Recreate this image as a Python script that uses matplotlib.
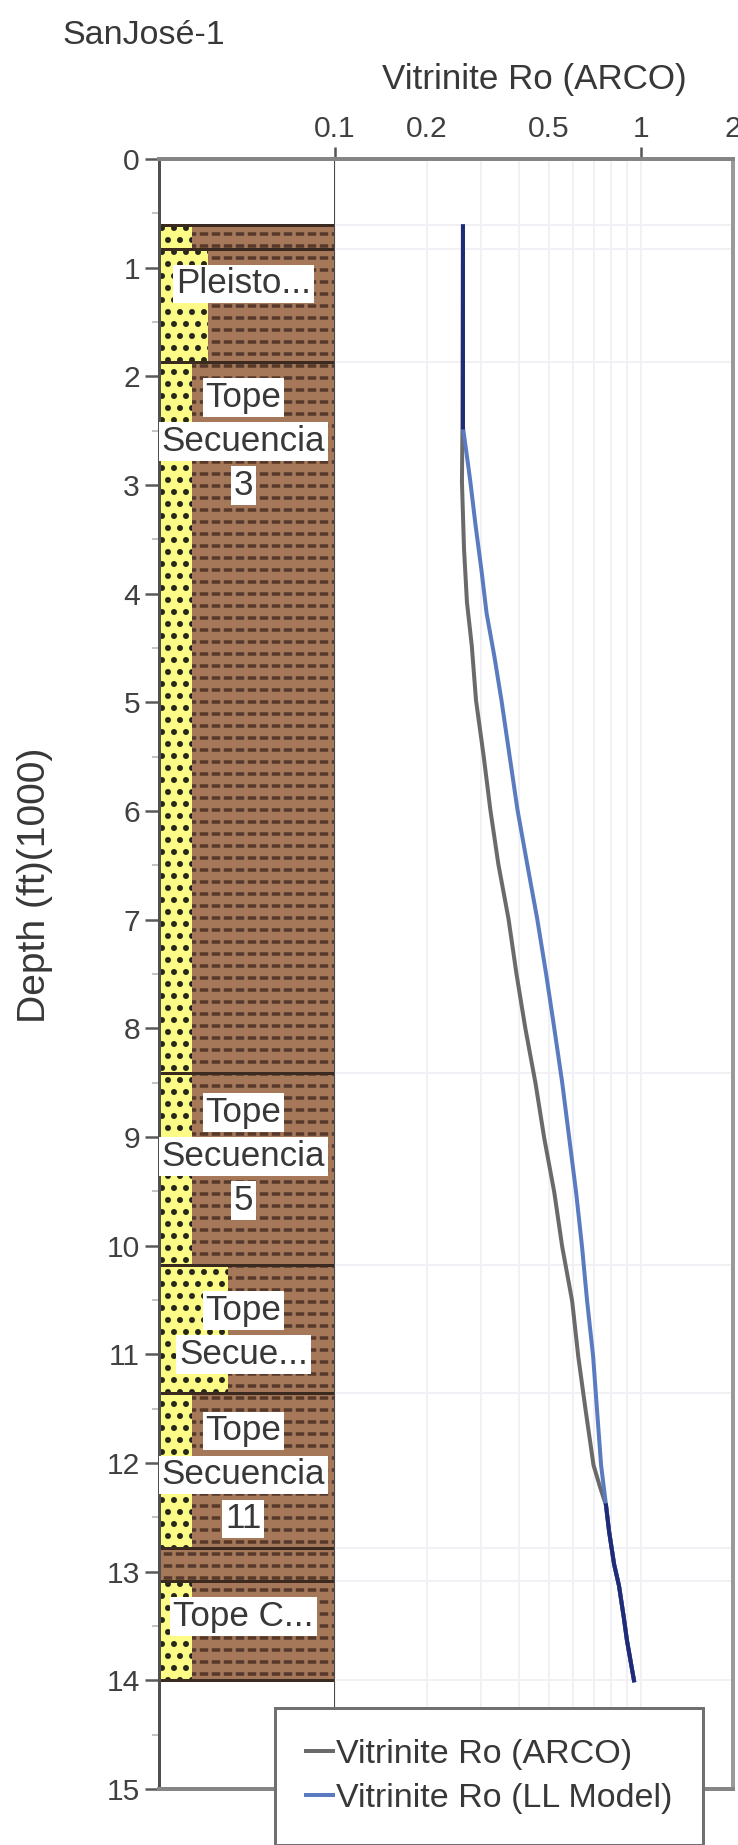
import numpy as np
import matplotlib
matplotlib.use('Agg')
import matplotlib.pyplot as plt
from matplotlib.patches import Rectangle
from matplotlib.ticker import FixedLocator, FixedFormatter, NullFormatter, LogLocator, MultipleLocator

plt.rcParams['font.family'] = ['Liberation Sans', 'DejaVu Sans']
plt.rcParams['hatch.linewidth'] = 3.5

# ---- data ----
well_name = 'SanJosé-1'
x_title = 'Vitrinite Ro (ARCO)'
y_title = 'Depth (ft)(1000)'

# lithology layers (depth in 1000 ft), sand share of the column
layer_top = [0.61, 0.83, 1.87, 8.41, 10.18, 11.36, 12.78, 13.09]
layer_base = [0.83, 1.87, 8.41, 10.18, 11.36, 12.78, 13.09, 14.0]
sand_frac = [0.19, 0.28, 0.19, 0.19, 0.39, 0.19, 0.0, 0.19]

form_names = ['Pleisto...', 'Tope\nSecuencia\n3', 'Tope\nSecuencia\n5',
              'Tope\nSecue...', 'Tope\nSecuencia\n11', 'Tope C...']
form_label_depth = [1.15, 2.60, 9.18, 10.80, 12.11, 13.41]

# vitrinite reflectance curves
depth_arco = [0.62, 2.47, 2.97, 3.58, 4.08, 4.48, 4.98, 5.49, 5.99, 6.49,
              6.99, 7.5, 8.0, 8.5, 9.01, 9.51, 10.01, 10.51, 11.02, 11.52,
              12.02, 12.22, 12.39, 12.63, 12.93, 13.13, 13.43, 13.63, 14.0]
ro_arco = [0.262, 0.261, 0.260, 0.264, 0.270, 0.280, 0.289, 0.306, 0.322, 0.342,
           0.369, 0.392, 0.419, 0.452, 0.483, 0.521, 0.553, 0.596, 0.624, 0.660,
           0.700, 0.735, 0.769, 0.787, 0.817, 0.848, 0.880, 0.900, 0.949]

depth_ll = [0.62, 2.47, 2.77, 2.97, 3.37, 3.78, 4.18, 4.58, 4.98, 5.49,
            5.99, 6.49, 6.99, 7.5, 8.0, 8.5, 9.01, 9.51, 10.01, 10.51,
            11.02, 11.52, 12.02, 12.39, 12.63, 12.93, 13.13, 13.43, 13.63, 14.0]
ro_ll = [0.262, 0.262, 0.271, 0.277, 0.288, 0.301, 0.313, 0.332, 0.350, 0.372,
         0.395, 0.425, 0.458, 0.490, 0.521, 0.553, 0.583, 0.614, 0.642, 0.667,
         0.698, 0.719, 0.741, 0.769, 0.787, 0.817, 0.848, 0.880, 0.900, 0.949]

ro_ticks = [0.1, 0.2, 0.5, 1, 2]
ro_tick_labels = ['0.1', '0.2', '0.5', '1', '2']

# ---- figure layout (pixel based, dpi 72 so 1pt = 1px) ----
W, H = 738, 1845
fig = plt.figure(figsize=(W / 72, H / 72), dpi=72)


def fx(px):
    return px / W


def fy(px):
    return 1 - px / H


y_top, y_bot = 159, 1789
x_left, x_mid, x_right = 159, 335, 733
ax_lith = fig.add_axes([fx(x_left), fy(y_bot), (x_mid - x_left) / W, (y_bot - y_top) / H])
ax_ro = fig.add_axes([fx(x_mid), fy(y_bot), (x_right - x_mid) / W, (y_bot - y_top) / H],
                     sharey=ax_lith)

sand_yellow = '#fbfb86'
dot_color = '#26261a'
shale_brown = '#a57859'
dash_color = '#56392b'
text_dark = '#383838'

# ---- lithology column ----
for top, base, sf in zip(layer_top, layer_base, sand_frac):
    h = base - top
    if sf > 0:
        ax_lith.add_patch(Rectangle((0, top), sf, h, facecolor=sand_yellow,
                                    edgecolor=dot_color, hatch='.', lw=0, zorder=1))
    ax_lith.add_patch(Rectangle((sf, top), 1 - sf, h, facecolor=shale_brown,
                                edgecolor=dash_color, hatch='-', lw=0, zorder=1))
    ax_lith.add_patch(Rectangle((sf, top), 1 - sf, h, facecolor='none',
                                edgecolor=shale_brown, hatch='|', lw=0, zorder=1.1))

bounds = layer_top + [layer_base[-1]]
ax_lith.hlines(bounds, 0, 1, color='#3b2a20', lw=3, zorder=2)

line_step = 0.405
for name, d in zip(form_names, form_label_depth):
    lines = name.split('\n')
    n = len(lines)
    for i, s in enumerate(lines):
        ax_lith.text(0.48, d + (i - (n - 1) / 2) * line_step, s, ha='center', va='center',
                     fontsize=35, color=text_dark, zorder=5,
                     bbox=dict(boxstyle='square,pad=0.08', fc='white', ec='none'))

ax_lith.set_xlim(0, 1)
ax_lith.set_ylim(15, 0)
ax_lith.set_xticks([])
ax_lith.yaxis.set_major_locator(MultipleLocator(1))
ax_lith.yaxis.set_minor_locator(MultipleLocator(0.5))
ax_lith.tick_params(axis='y', which='major', length=14, width=2.5, color='#5a5a5a',
                    labelsize=30, labelcolor='#404040', pad=5)
ax_lith.tick_params(axis='y', which='minor', length=7, width=2, color='#c4c4c4')
ax_lith.spines['left'].set_color('#505050')
ax_lith.spines['left'].set_linewidth(3)
ax_lith.spines['right'].set_color('#4a4a4a')
ax_lith.spines['right'].set_linewidth(3)
for s in ['top', 'bottom']:
    ax_lith.spines[s].set_color('#858585')
    ax_lith.spines[s].set_linewidth(4)

# ---- Ro track ----
ax_ro.set_xscale('log')
ax_ro.set_xlim(0.1, 2)
ax_ro.hlines(bounds, 0.1, 2, color='#f0f0f5', lw=2, zorder=0.5)
l1, = ax_ro.plot(ro_arco, depth_arco, color='#6a6a6a', lw=4, zorder=3)
l2, = ax_ro.plot(ro_ll, depth_ll, color='#5b7bc0', lw=4, zorder=3)

# where both curves coincide the original renders a dark navy line
arco_on_ll = np.interp(depth_ll, depth_arco, ro_arco)
same = np.abs(np.log10(arco_on_ll) - np.log10(ro_ll)) < 0.004
ax_ro.plot(np.where(same, ro_ll, np.nan), depth_ll, color='#1f2a78', lw=4, zorder=3.5)

ax_ro.xaxis.tick_top()
ax_ro.xaxis.set_major_locator(FixedLocator(ro_ticks))
ax_ro.xaxis.set_major_formatter(FixedFormatter(ro_tick_labels))
ax_ro.xaxis.set_minor_locator(LogLocator(base=10, subs=np.arange(2, 10)))
ax_ro.xaxis.set_minor_formatter(NullFormatter())
ax_ro.tick_params(axis='x', which='major', length=12, width=2.5, color='#555555',
                  labelsize=30, labelcolor='#404040', pad=4)
ax_ro.tick_params(axis='x', which='minor', length=0)
ax_ro.grid(which='both', axis='x', color='#f0f0f5', lw=2, zorder=0)
for t, v in zip(ax_ro.xaxis.get_major_ticks(), ro_ticks):
    if v not in (0.1, 1):
        t.tick2line.set_visible(False)
ax_ro.tick_params(axis='y', which='both', left=False, right=False, labelleft=False)
ax_ro.spines['left'].set_visible(False)
for s in ['top', 'bottom']:
    ax_ro.spines[s].set_color('#858585')
    ax_ro.spines[s].set_linewidth(4)
ax_ro.spines['right'].set_color('#9a9a9a')
ax_ro.spines['right'].set_linewidth(4)

# ---- texts ----
fig.text(fx(62), fy(35), well_name, ha='left', va='center', fontsize=34, color=text_dark)
fig.text(fx(534), fy(80), x_title, ha='center', va='center', fontsize=35, color=text_dark)
fig.text(fx(35), fy(885), y_title, ha='center', va='center', rotation=90,
         fontsize=39, color=text_dark)

leg = fig.legend([l1, l2], ['Vitrinite Ro (ARCO)', 'Vitrinite Ro (LL Model)'],
                 loc='upper left', bbox_to_anchor=(fx(275), fy(1708)), fontsize=34,
                 frameon=True, fancybox=False, edgecolor='#707070', framealpha=1,
                 borderpad=0.9, handlelength=0.8, handletextpad=0.1, labelspacing=0.4,
                 borderaxespad=0)
leg.get_frame().set_linewidth(3)
for t in leg.get_texts():
    t.set_color(text_dark)

fig.savefig('out.png', dpi=72)
